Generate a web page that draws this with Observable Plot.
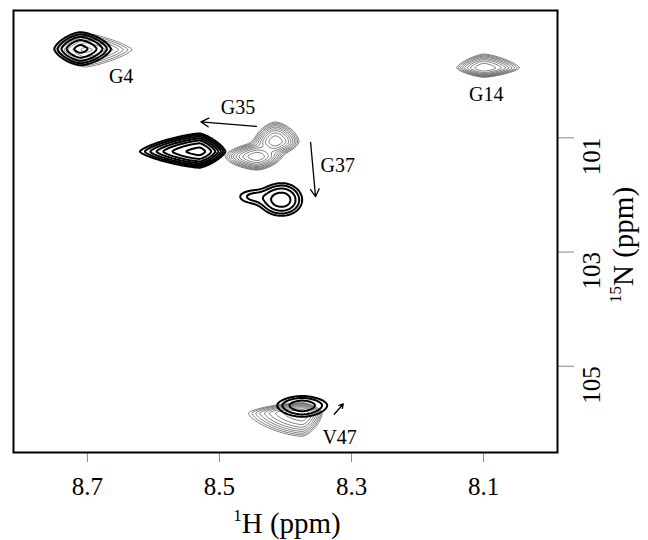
<!DOCTYPE html>
<html>
<head>
<meta charset="utf-8">
<script src="https://cdn.jsdelivr.net/npm/d3@7"></script>
<script src="https://cdn.jsdelivr.net/npm/@observablehq/plot@0.6"></script>
<style>
  body { margin: 0; background: #fff; }
  #chart svg { font-family: "Liberation Serif", "Times New Roman", serif; }
</style>
</head>
<body>
<div id="chart"></div>
<script>
// Axis ticks (ppm)
const hTicks = [8.7, 8.5, 8.3, 8.1];
const nTicks = [101, 103, 105];
const hDomain = [8.812, 7.988];
const nDomain = [106.51, 98.77];

// Cross peaks of the reference spectrum (heavy contours):
// centre (1H, 15N ppm), linewidths on each side (ppm), height, line-shape exponent
const darkPeaks = [
  {name: "G4",  h: 8.7106, n: 99.444,  wHi: 0.0215, wLo: 0.025,  wUp: 0.16,  wDown: 0.155, amp: 0.55, shape: 1.5},
  {name: "G35", h: 8.5303, n: 101.24,  wHi: 0.040,  wLo: 0.0174, wUp: 0.14,  wDown: 0.125, amp: 1.3,  shape: 1.35},
  {name: "G37", h: 8.406,  n: 102.088, wHi: 0.019,  wLo: 0.018,  wUp: 0.17,  wDown: 0.16,  amp: 0.45, shape: 2.0},
  {name: "G37s",h: 8.452,  n: 102.03,  wHi: 0.018,  wLo: 0.016,  wUp: 0.10,  wDown: 0.10,  amp: 0.15, shape: 2.0},
  {name: "V47", h: 8.3747, n: 105.684, wHi: 0.0256, wLo: 0.0256, wUp: 0.11,  wDown: 0.135, amp: 0.3,  shape: 1.8}
];

// Cross peaks of the second spectrum (fine contours)
const lightPeaks = [
  {name: "G4",   h: 8.703,  n: 99.456,  wHi: 0.0253, wLo: 0.0394, wUp: 0.16,  wDown: 0.17,  amp: 0.5, shape: 1.3},
  {name: "G14",  h: 8.0995, n: 99.777,  wHi: 0.0203, wLo: 0.0265, wUp: 0.12,  wDown: 0.08,  amp: 0.8, shape: 1.4},
  {name: "G35a", h: 8.4152, n: 101.065, wHi: 0.015,  wLo: 0.0167, wUp: 0.16,  wDown: 0.11,  amp: 1.0, shape: 1.6},
  {name: "G35b", h: 8.4429, n: 101.328, wHi: 0.0227, wLo: 0.0167, wUp: 0.11,  wDown: 0.11,  amp: 1.0, shape: 1.6},
  {name: "V47",  h: 8.3747, n: 105.82,  wHi: 0.040,  wLo: 0.0149, wUp: 0.09,  wDown: 0.2,   amp: 0.8, shape: 1.5}
];

// Contour levels (geometric spacing)
const darkLevels = [0.1, 0.15, 0.225, 0.34, 0.5, 0.76, 1.14];
const lightLevels = [0.1, 0.13, 0.17, 0.22, 0.285, 0.37, 0.48, 0.63, 0.82, 1.06, 1.38];

// Residue assignments
const labelText = ["G4", "G14", "G35", "G37", "V47"];
const labelH = [8.649, 8.096, 8.472, 8.321, 8.318];
const labelN = [99.93, 100.25, 100.47, 101.48, 106.25];

// Chemical shift changes
const arrowH1 = [8.444, 8.362, 8.3262];
const arrowN1 = [100.80, 101.08, 105.84];
const arrowH2 = [8.528, 8.3545, 8.3125];
const arrowN2 = [100.72, 102.03, 105.66];

const labels = labelText.map((t, i) => ({text: t, h: labelH[i], n: labelN[i]}));
const arrows = arrowH1.map((h, i) => ({h1: h, n1: arrowN1[i], h2: arrowH2[i], n2: arrowN2[i]}));

// Sum of skewed peak shapes at (h, n)
function intensity(peaks, h, n) {
  let s = 0;
  for (const p of peaks) {
    const dh = h - p.h, dn = n - p.n;
    const u = Math.abs(dh) / (dh > 0 ? p.wHi : p.wLo);
    const v = Math.abs(dn) / (dn < 0 ? p.wUp : p.wDown);
    const r = Math.pow(Math.pow(u, p.shape) + Math.pow(v, p.shape), 1 / p.shape);
    s += p.amp * Math.exp(-0.5 * r * r);
  }
  return s;
}

// Sample a spectrum on a regular grid spanning the plotted window
const gridW = 544, gridH = 442;
const gx1 = hDomain[0], gx2 = hDomain[1], gy1 = nDomain[1], gy2 = nDomain[0];
function sampleGrid(peaks) {
  const values = new Float64Array(gridW * gridH);
  for (let j = 0; j < gridH; ++j) {
    const n = gy1 + (j + 0.5) * (gy2 - gy1) / gridH;
    for (let i = 0; i < gridW; ++i) {
      const h = gx1 + (i + 0.5) * (gx2 - gx1) / gridW;
      values[j * gridW + i] = intensity(peaks, h, n);
    }
  }
  return values;
}
const lightGrid = sampleGrid(lightPeaks);
const darkGrid = sampleGrid(darkPeaks);
const gridOpts = {width: gridW, height: gridH, x1: gx1, x2: gx2, y1: gy1, y2: gy2, value: Plot.identity, fill: "none"};

const plot = Plot.plot({
  width: 648,
  height: 540,
  marginLeft: 13,
  marginRight: 91,
  marginTop: 10,
  marginBottom: 88,
  style: {fontFamily: "Liberation Serif, Times New Roman, serif", background: "#fff"},
  x: {domain: hDomain},
  y: {domain: nDomain},
  marks: [
    Plot.contour(lightGrid, {...gridOpts, thresholds: lightLevels, stroke: "#333", strokeWidth: 0.6}),
    Plot.contour(darkGrid, {...gridOpts, thresholds: darkLevels, stroke: "#000", strokeWidth: 2}),
    Plot.arrow(arrows, {x1: "h1", y1: "n1", x2: "h2", y2: "n2", stroke: "#000", strokeWidth: 1.3, headLength: 10, headAngle: 60}),
    Plot.text(labels, {x: "h", y: "n", text: "text", fontSize: 20, fill: "#000"}),
    Plot.axisX({ticks: hTicks, tickSize: 10, tickPadding: 15, fontSize: 25, stroke: "#888", fill: "#000", label: null, tickFormat: d => d.toFixed(1)}),
    Plot.axisY({anchor: "right", ticks: nTicks, tickSize: 16, tickFormat: () => "", stroke: "#888", label: null}),
    Plot.text(nTicks, {y: d => d, frameAnchor: "right", dx: 34, rotate: -90, text: d => String(d), fontSize: 25, fill: "#000"}),
    Plot.frame({stroke: "#000", strokeWidth: 2})
  ]
});

document.getElementById("chart").appendChild(plot);

// Axis titles with superscript isotope numbers
const svg = d3.select(plot);
const xt = svg.append("text")
  .attr("x", 287).attr("y", 533)
  .attr("text-anchor", "middle")
  .attr("font-size", 29).attr("fill", "#000");
xt.append("tspan").attr("font-size", 17).attr("dy", -12).text("1");
xt.append("tspan").attr("dy", 12).text("H (ppm)");

const yt = svg.append("text")
  .attr("transform", "translate(633,245) rotate(-90)")
  .attr("text-anchor", "middle")
  .attr("font-size", 29).attr("fill", "#000");
yt.append("tspan").attr("font-size", 17).attr("dy", -12).text("15");
yt.append("tspan").attr("dy", 12).text("N (ppm)");
</script>
</body>
</html>
